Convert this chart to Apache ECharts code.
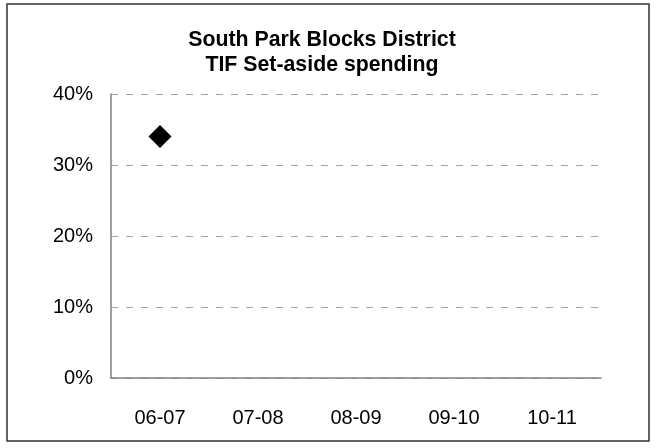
<!DOCTYPE html>
<html>
<head>
<meta charset="utf-8">
<style>
  html, body { margin: 0; padding: 0; background: #fff; }
  #chart { width: 656px; height: 448px; }
</style>
<script src="https://cdn.jsdelivr.net/npm/echarts@6/dist/echarts.min.js"></script>
</head>
<body>
<div id="chart"></div>
<script>
// Fiscal years and share of TIF set-aside spending (percent)
const fiscalYears = ['06-07', '07-08', '08-09', '09-10', '10-11'];
const setAsideShare = [34, null, null, null, null];
const yTicks = { min: 0, max: 40, step: 10 };
const chartTitle = 'South Park Blocks District\nTIF Set-aside spending';

const chart = echarts.init(document.getElementById('chart'), null, { renderer: 'canvas' });
const FONT = 'Liberation Sans, Arial, sans-serif';

chart.setOption({
  animation: false,
  backgroundColor: '#fff',
  graphic: [
    {
      type: 'rect',
      shape: { x: 7, y: 4, width: 642, height: 437 },
      style: { fill: 'none', stroke: '#333', lineWidth: 1.5 },
      silent: true
    },
    {
      // two-line centred heading above the plot
      type: 'text',
      x: 322,
      y: 28,
      style: {
        text: chartTitle,
        textAlign: 'center',
        textVerticalAlign: 'top',
        fontFamily: FONT,
        fontSize: 21.3,
        fontWeight: 'bold',
        lineHeight: 24.5,
        fill: '#000'
      },
      silent: true
    }
  ],
  grid: { left: 111, right: 55, top: 94, bottom: 70 },
  xAxis: {
    type: 'category',
    data: fiscalYears,
    boundaryGap: true,
    axisLine: { lineStyle: { color: '#808080', width: 1.5 } },
    axisTick: { show: false },
    axisLabel: { color: '#000', fontFamily: FONT, fontSize: 20, margin: 30 },
    splitLine: { show: false }
  },
  yAxis: {
    type: 'value',
    min: yTicks.min,
    max: yTicks.max,
    interval: yTicks.step,
    axisLine: { show: true, lineStyle: { color: '#808080', width: 1.5 } },
    axisTick: { show: false },
    axisLabel: { color: '#000', fontFamily: FONT, fontSize: 20, margin: 18, formatter: '{value}%' },
    splitLine: { show: true, lineStyle: { color: '#a0a0a0', type: [7, 8], width: 1 } }
  },
  series: [{
    type: 'scatter',
    data: setAsideShare,
    symbol: 'diamond',
    symbolSize: 23,
    itemStyle: { color: '#000', opacity: 1 }
  }]
});
</script>
</body>
</html>
